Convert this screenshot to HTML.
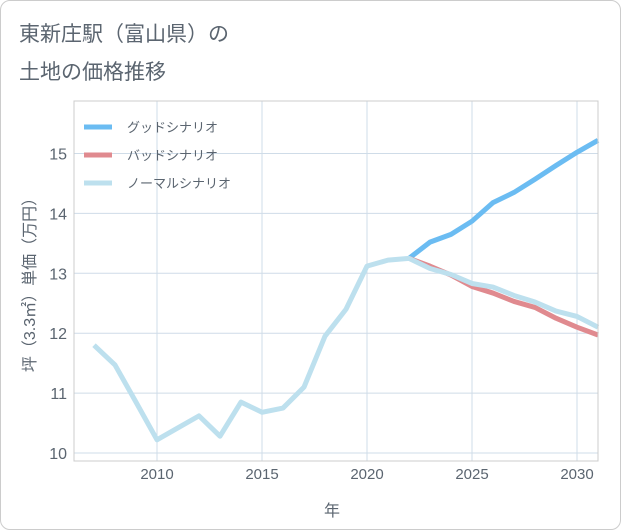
<!DOCTYPE html>
<html><head><meta charset="utf-8"><style>
body{margin:0;background:#fff;}
#card{position:absolute;left:0;top:0;width:619px;height:528px;border:1px solid #ccc;border-radius:10px;background:#fff;overflow:hidden;}
.t{font-family:"Liberation Sans","Noto Sans CJK JP",sans-serif;}
</style></head><body>
<div id="card">
<svg id="svg" width="621" height="530" class="t">
<text x="18" y="40" font-size="21" fill="#5b6570">東新庄駅（富山県）の</text>
<text x="18" y="78" font-size="21" fill="#5b6570">土地の価格推移</text>
<g id="grid"></g><g id="series"></g>
<rect x="73" y="100" width="524" height="360" fill="none" stroke="#ccc"/>
<g>
<line x1="83" y1="126" x2="111" y2="126" stroke="#6bbcf2" stroke-width="5"/>
<text x="126" y="131" font-size="13" fill="#5b6570">グッドシナリオ</text>
<line x1="83" y1="154" x2="111" y2="154" stroke="#e08a8f" stroke-width="5"/>
<text x="126" y="159" font-size="13" fill="#5b6570">バッドシナリオ</text>
<line x1="83" y1="182" x2="111" y2="182" stroke="#bde0ee" stroke-width="5"/>
<text x="126" y="187" font-size="13" fill="#5b6570">ノーマルシナリオ</text>
</g>
<text x="331" y="515" font-size="16" fill="#5b6570" text-anchor="middle">年</text>
<text transform="translate(34,280) rotate(-90)" font-size="16" fill="#5b6570" text-anchor="middle">坪（3.3㎡）単価（万円）</text>
</svg></div>
<script>
const normalYears=[2007,2008,2009,2010,2011,2012,2013,2014,2015,2016,2017,2018,2019,2020,2021,2022,2023,2024,2025,2026,2027,2028,2029,2030,2031];
const normalVals=[11.8,11.47,10.85,10.22,10.42,10.62,10.28,10.85,10.68,10.75,11.1,11.95,12.4,13.12,13.22,13.25,13.08,12.98,12.83,12.77,12.63,12.52,12.37,12.28,12.1];
const futureYears=[2022,2023,2024,2025,2026,2027,2028,2029,2030,2031];
const goodVals=[13.25,13.52,13.65,13.87,14.18,14.35,14.57,14.8,15.02,15.22];
const badVals=[13.25,13.12,12.97,12.78,12.67,12.53,12.43,12.25,12.1,11.97];
const xTicks=[2010,2015,2020,2025,2030];
const yTicks=[10,11,12,13,14,15];
const X=y=>156+(y-2010)*21, Y=v=>452-(v-10)*59.9;
const NS="http://www.w3.org/2000/svg";
const grid=document.getElementById('grid'), ser=document.getElementById('series');
function mk(tag,attrs,parent){const e=document.createElementNS(NS,tag);for(const k in attrs)e.setAttribute(k,attrs[k]);parent.appendChild(e);return e;}
xTicks.forEach(t=>{const l=mk('line',{x1:X(t),x2:X(t),y1:100,y2:460,stroke:'#cfdce8'},grid);


const tx=mk('text',{x:X(t),y:478,'font-size':15,fill:'#5b6570','text-anchor':'middle'},grid);tx.textContent=t;

});
yTicks.forEach(t=>{const l=mk('line',{x1:73,x2:597,y1:Y(t),y2:Y(t),stroke:'#cfdce8'},grid);


const tx=mk('text',{x:66,y:Y(t)+6,'font-size':16,fill:'#5b6570','text-anchor':'end'},grid);tx.textContent=t;

});
function line(xs,vs,color,name){const p=mk('polyline',{points:xs.map((x,i)=>X(x)+','+Y(vs[i])).join(' '),fill:'none',stroke:color,'stroke-width':5,'stroke-linejoin':'round'},ser);

}
line(futureYears,goodVals,'#6bbcf2','good-line');
line(futureYears,badVals,'#e08a8f','bad-line');
line(normalYears,normalVals,'#bde0ee','normal-line');
</script></body></html>
